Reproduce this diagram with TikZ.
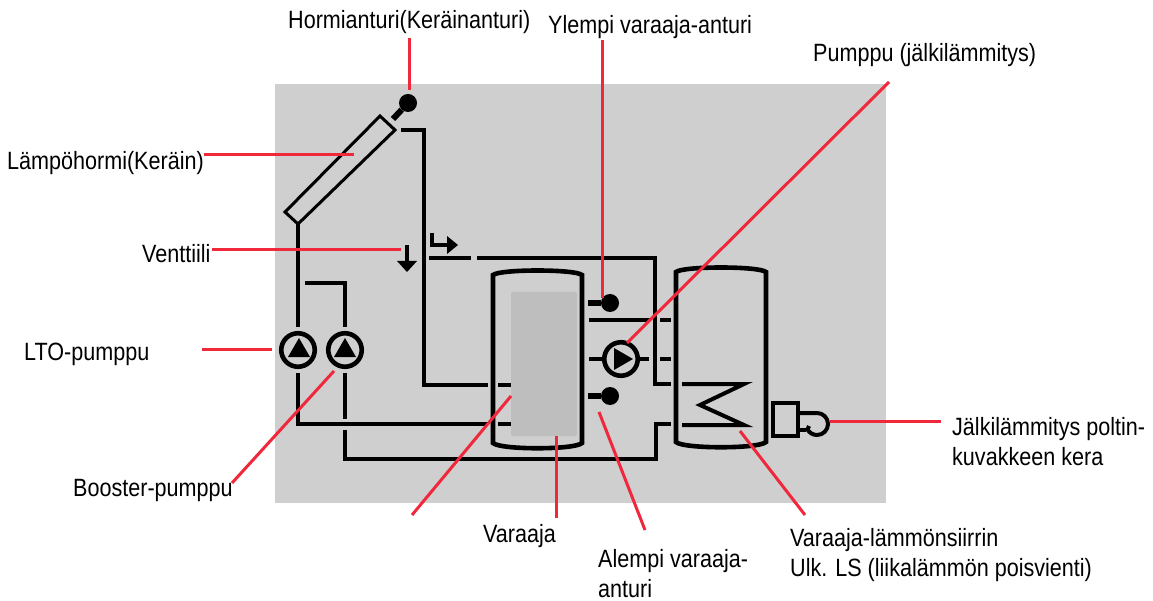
\documentclass[tikz,border=0pt]{standalone}
\usepackage{fontspec}
\setmainfont{Liberation Sans}
\definecolor{panel}{HTML}{CFCFCF}
\definecolor{inner}{HTML}{BEBEBE}
\definecolor{callout}{HTML}{F0283C}
\tikzset{
  pipe/.style={draw=black,line width=4.6pt},
  thinpipe/.style={draw=black,line width=3pt},
  redline/.style={draw=callout,line width=3pt},
  lbl/.style={font=\fontsize{25}{30}\selectfont,text=black,inner sep=0pt,align=left,xscale=0.863,transform shape,anchor=west},
  pumpring/.style={circle,draw=black,line width=4.6pt,minimum size=33.5pt,inner sep=0pt},
  sensorbulb/.style={circle,fill=black,minimum size=18pt,inner sep=0pt},
}
\begin{document}
\begin{tikzpicture}[x=1pt,y=-1pt]
\useasboundingbox (0,0) rectangle (1153,601);
\fill[panel] (275,84) rectangle (886,503);
\fill[inner,rounded corners=2pt] (511,292) rectangle (577,436);
% collector
\draw[thinpipe] (380,116) -- (395,130) -- (298,224) -- (285,212) -- cycle;
% collector sensor
\node[sensorbulb] (s0) at (408,103) {};
\coordinate (s0a) at (393,119);
\draw[draw=black,line width=6pt] (s0a) -- (s0);
% pipes
\draw[pipe] (401,130) -- (424,130) -- (424,385) -- (488,385);
\draw[pipe] (498,385) -- (511,385);
\node[pumpring] (p1) at (298,350) {};
\node[pumpring] (p2) at (345,350) {};
\node[pumpring] (p3) at (621,359) {};
\fill[black] (299,338) -- (310,357) -- (288,357) -- cycle;
\fill[black] (345,338) -- (356,357) -- (334,357) -- cycle;
\fill[black] (614,348) -- (633,359) -- (614,370) -- cycle;
\draw[pipe] (298,224) -- (298,327);
\draw[pipe] (298,373) -- (298,424) -- (487,424);
\draw[pipe] (498,424) -- (511,424);
\draw[pipe] (305,283) -- (345,283) -- (345,327);
\draw[pipe] (345,373) -- (345,419);
\draw[pipe] (345,430) -- (345,459) -- (656,459) -- (656,424) -- (671,424);
\draw[pipe] (429,258) -- (471,258);
\draw[pipe] (477,258) -- (655,258) -- (655,384) -- (671,384);
% valve and flow arrows
\draw[draw=black,line width=4pt] (407,245) -- (407,266);
\fill[black] (397,261) -- (407,272) -- (417,261) -- cycle;
\draw[draw=black,line width=4pt] (432,233) -- (432,245) -- (450,245);
\fill[black] (447,236) -- (458,245) -- (447,254) -- cycle;
% tanks
\draw[pipe] (493,275) .. controls (500,269) and (575,269) .. (582,275) -- (582,443) .. controls (575,450) and (500,450) .. (493,443) -- cycle;
\draw[pipe] (676,272) .. controls (683,266) and (759,266) .. (766,272) -- (766,442) .. controls (759,449) and (683,449) .. (676,442) -- cycle;
% sensors right
\node[sensorbulb] (s1) at (610,303) {};
\node[sensorbulb] (s2) at (610,396) {};
\coordinate (s1a) at (588,303);
\coordinate (s2a) at (588,396);
\draw[draw=black,line width=6pt] (s1a) -- (s1);
\draw[draw=black,line width=6pt] (s2a) -- (s2);
% stubs
\draw[pipe] (589,320) -- (650,320);
\draw[pipe] (660,320) -- (671,320);
\draw[pipe] (589,359) -- (603,359);
\draw[pipe] (639,359) -- (649,359);
\draw[pipe] (660,359) -- (671,359);
% coil
\draw[draw=black,line width=4pt,miter limit=10] (682,384) -- (744,384) -- (700,405) -- (744,425) -- (682,425);
% burner
\draw[draw=black,line width=3.6pt] (773,403) rectangle (798,436);
\draw[draw=black,line width=4pt] (798,413) -- (817,413) arc[start angle=-90,end angle=150,radius=11] -- (809,426);
\draw[draw=black,line width=4pt] (798,430) -- (806,430);
% callouts
\coordinate (c1a) at (409,38); \coordinate (c1b) at (409,90);
\coordinate (c2a) at (204,155); \coordinate (c2b) at (354,155);
\coordinate (c3a) at (212,250); \coordinate (c3b) at (401,250);
\coordinate (c4a) at (202,349); \coordinate (c4b) at (272,349);
\coordinate (c5a) at (232,483); \coordinate (c5b) at (334,371);
\coordinate (c6a) at (602,40); \coordinate (c6b) at (602,298);
\coordinate (c7a) at (889,82); \coordinate (c7b) at (627,343);
\coordinate (c8a) at (412,515); \coordinate (c8b) at (511,396);
\coordinate (c9a) at (556,436); \coordinate (c9b) at (556,518);
\coordinate (c10a) at (599,412); \coordinate (c10b) at (645,530);
\coordinate (c11a) at (740,431); \coordinate (c11b) at (805,515);
\coordinate (c12a) at (830,421); \coordinate (c12b) at (941,421);
\foreach \n in {1,...,12} {\draw[redline] (c\n a) -- (c\n b);}
% labels
\node[lbl] (t1) at (288,22) {Hormianturi(Keräinanturi)};
\node[lbl] (t2) at (7,163) {Lämpöhormi(Keräin)};
\node[lbl] (t3) at (142,254) {Venttiili};
\node[lbl] (t4) at (24,354) {LTO-pumppu};
\node[lbl] (t5) at (73,490) {Booster-pumppu};
\node[lbl] (t6) at (548,27) {Ylempi varaaja-anturi};
\node[lbl] (t7) at (813,55) {Pumppu (jälkilämmitys)};
\node[lbl] (t8) at (483,536) {Varaaja};
\node[lbl] (t9) at (598,574) {Alempi varaaja-\\anturi};
\node[lbl] (t10) at (790,555) {Varaaja-lämmönsiirrin\\Ulk. LS (liikalämmön poisvienti)};
\node[lbl] (t11) at (952,442) {Jälkilämmitys poltin-\\kuvakkeen kera};
\end{tikzpicture}
\end{document}
